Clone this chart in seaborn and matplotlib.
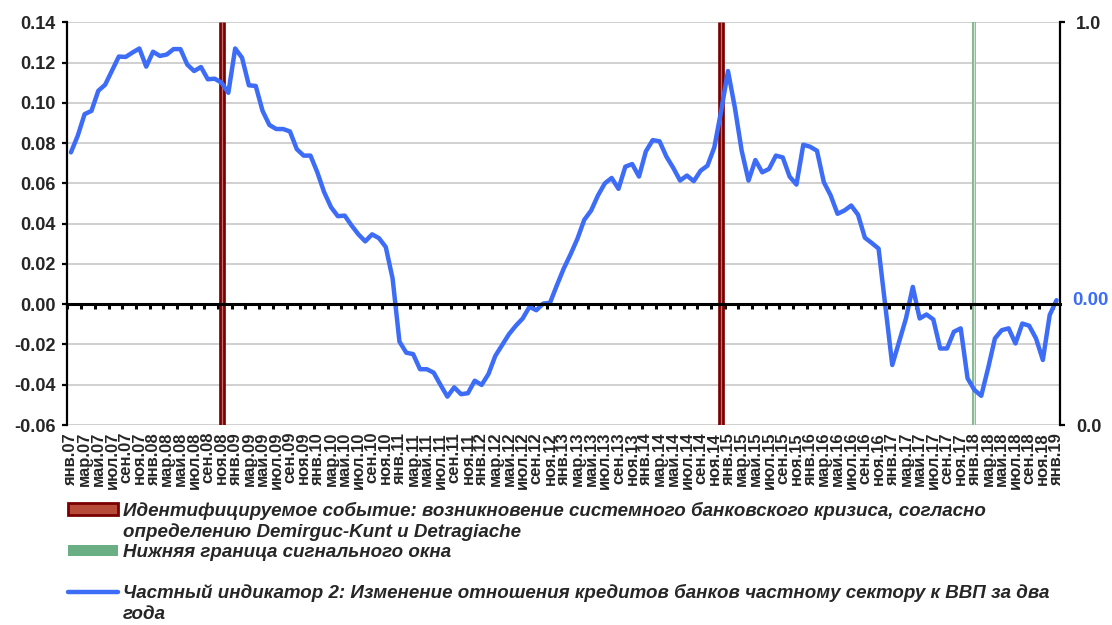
import numpy as np
import pandas as pd
import matplotlib
matplotlib.use("Agg")
import matplotlib.pyplot as plt
from matplotlib.lines import Line2D
from matplotlib.patches import Patch
import seaborn as sns

# ---------------- data ----------------
month_abbr = ["янв", "мар", "май", "июл", "сен", "ноя"]
years = ["07", "08", "09", "10", "11", "12", "13", "14", "15", "16", "17", "18", "19"]
tick_labels = [f"{m}.{y}" for y in years for m in month_abbr][:73]

indicator = [
    0.0754, 0.0837, 0.0944, 0.0960, 0.1060, 0.1090, 0.1160, 0.1230, 0.1228, 0.1250,
    0.1270, 0.1180, 0.1254, 0.1233, 0.1240, 0.1267, 0.1267, 0.1190, 0.1158, 0.1178,
    0.1117, 0.1120, 0.1100, 0.1050, 0.1270, 0.1224, 0.1087, 0.1084, 0.0960, 0.0890,
    0.0870, 0.0870, 0.0858, 0.0770, 0.0738, 0.0738, 0.0655, 0.0556, 0.0482, 0.0437,
    0.0440, 0.0391, 0.0347, 0.0312, 0.0347, 0.0328, 0.0284, 0.0127, -0.0186, -0.0241,
    -0.0248, -0.0323, -0.0323, -0.0340, -0.0401, -0.0459, -0.0413, -0.0447, -0.0442, -0.0380,
    -0.0401, -0.0347, -0.0257, -0.0203, -0.0149, -0.0107, -0.0071, -0.0013, -0.0030, 0.0003,
    0.0007, 0.0094, 0.0177, 0.0248, 0.0325, 0.0419, 0.0465, 0.0540, 0.0600, 0.0627,
    0.0573, 0.0683, 0.0696, 0.0634, 0.0759, 0.0815, 0.0809, 0.0733, 0.0677, 0.0614,
    0.0639, 0.0611, 0.0663, 0.0688, 0.0779, 0.0960, 0.1158, 0.0977, 0.0762, 0.0614,
    0.0716, 0.0655, 0.0672, 0.0738, 0.0729, 0.0634, 0.0594, 0.0792, 0.0782, 0.0762,
    0.0606, 0.0540, 0.0449, 0.0465, 0.0490, 0.0444, 0.0330, 0.0304, 0.0276, -0.0013,
    -0.0302, -0.0186, -0.0071, 0.0086, -0.0071, -0.0051, -0.0076, -0.0220, -0.0220, -0.0137,
    -0.0120, -0.0368, -0.0426, -0.0455, -0.0318, -0.0170, -0.0129, -0.0120, -0.0195, -0.0096,
    -0.0107, -0.0170, -0.0277, -0.0054, 0.0020,
]
crisis_idx = [22, 95]      # Nov 2008, Dec 2014
window_idx = [132]         # Jan 2018

legend_crisis = ["Идентифицируемое событие: возникновение системного банковского кризиса, согласно",
                 "определению Demirguc-Kunt и Detragiache"]
legend_window = "Нижняя граница сигнального окна"
legend_ind = ["Частный индикатор 2: Изменение отношения кредитов банков частному сектору к ВВП за два",
              "года"]

# ---------------- style ----------------
sns.set_theme(style="white")
plt.rcParams["font.family"] = ["Liberation Sans", "DejaVu Sans"]
plt.rcParams["font.weight"] = "bold"

BLUE = "#3d6cf7"
DARKRED = "#7a0000"

fig = plt.figure(figsize=(11.12, 6.25), dpi=100)
ax = fig.add_axes([0.0607, 0.32, 0.8925, 0.6443])

n = len(indicator)
df = pd.DataFrame({"idx": np.arange(n), "value": indicator})

ax.set_xlim(-0.5, n - 0.5)
ax.set_ylim(-0.06, 0.14)
yt = np.arange(-0.06, 0.1401, 0.02)
ax.set_yticks(yt)
ax.set_yticklabels([f"{v:.2f}" for v in yt])
ax.yaxis.grid(True, color="#c8c8c8", lw=1.2)
ax.set_axisbelow(True)

# event markers
ax.vlines(crisis_idx, -0.06, 0.14, colors=DARKRED, lw=4.8, zorder=2)
ax.vlines(crisis_idx, -0.06, 0.14, colors="#c07070", lw=0.9, zorder=2)
ax.vlines(window_idx, -0.06, 0.14, colors="#7fb58e", lw=2.8, zorder=2)
ax.vlines(window_idx, -0.06, 0.14, colors="#d4e8d8", lw=0.9, zorder=2)

sns.lineplot(data=df, x="idx", y="value", ax=ax, color=BLUE, lw=3.2, zorder=4,
             legend=False)
ax.set_xlabel("")
ax.set_ylabel("")

# data label for last point
ax.annotate(f"{indicator[-1]:.2f}", xy=(n - 1, indicator[-1]), xytext=(11, 0),
            textcoords="offset points", ha="left", va="center", color=BLUE,
            fontsize=13.5, fontweight="bold", annotation_clip=False)

# spines
for s in ["top", "right"]:
    ax.spines[s].set_visible(False)
ax.spines["left"].set_color("black")
ax.spines["left"].set_linewidth(1.6)
ax.spines["bottom"].set_position(("data", 0))
ax.spines["bottom"].set_color("black")
ax.spines["bottom"].set_linewidth(2.2)
ax.spines["bottom"].set_zorder(5)

ax.set_xticks(np.arange(-0.5, n, 2))
ax.tick_params(axis="x", which="major", length=3.5, width=2.2, direction="out",
               color="black", labelbottom=False, bottom=True)
ax.tick_params(axis="y", length=3.5, width=1.6, color="black", pad=5,
               labelsize=13, left=True)
for lbl in ax.get_yticklabels():
    lbl.set_fontweight("bold")

# category labels at bottom
sec = ax.secondary_xaxis(0)
sec.set_xticks(np.arange(0, n, 2), labels=tick_labels)
sec.tick_params(axis="x", length=0, pad=5, labelsize=12, labelrotation=90)
for lbl in sec.get_xticklabels():
    lbl.set_fontweight("bold")
sec.spines["bottom"].set_visible(False)

# right axis
ax2 = ax.twinx()
ax2.set_ylim(0, 1)
ax2.set_yticks([0, 1])
ax2.set_yticklabels(["0.0", "1.0"])
ax2.tick_params(axis="y", length=3.5, width=1.6, color="black", pad=8, labelsize=13,
                right=True)
for lbl in ax2.get_yticklabels():
    lbl.set_fontweight("bold")
for s in ["top", "left", "bottom"]:
    ax2.spines[s].set_visible(False)
ax2.spines["right"].set_color("black")
ax2.spines["right"].set_linewidth(1.6)
ax2.grid(False)

# legend
blank = Line2D([], [], linestyle="none")
handles = [
    Patch(facecolor="#b84a3a", edgecolor=DARKRED, lw=2),
    blank,
    Patch(facecolor="#6aae84", edgecolor="none"),
    blank,
    Line2D([], [], color=BLUE, lw=3.2),
    blank,
]
labels = [legend_crisis[0], legend_crisis[1], legend_window, "", legend_ind[0], legend_ind[1]]
leg = fig.legend(handles, labels, loc="upper left", bbox_to_anchor=(0.061, 0.197),
                 frameon=False, labelspacing=0.17, handlelength=2.7, handleheight=0.6,
                 handletextpad=0.25, borderpad=0, borderaxespad=0,
                 prop={"size": 13.5, "weight": "bold", "style": "italic"})

fig.savefig("out.png", dpi=100)
